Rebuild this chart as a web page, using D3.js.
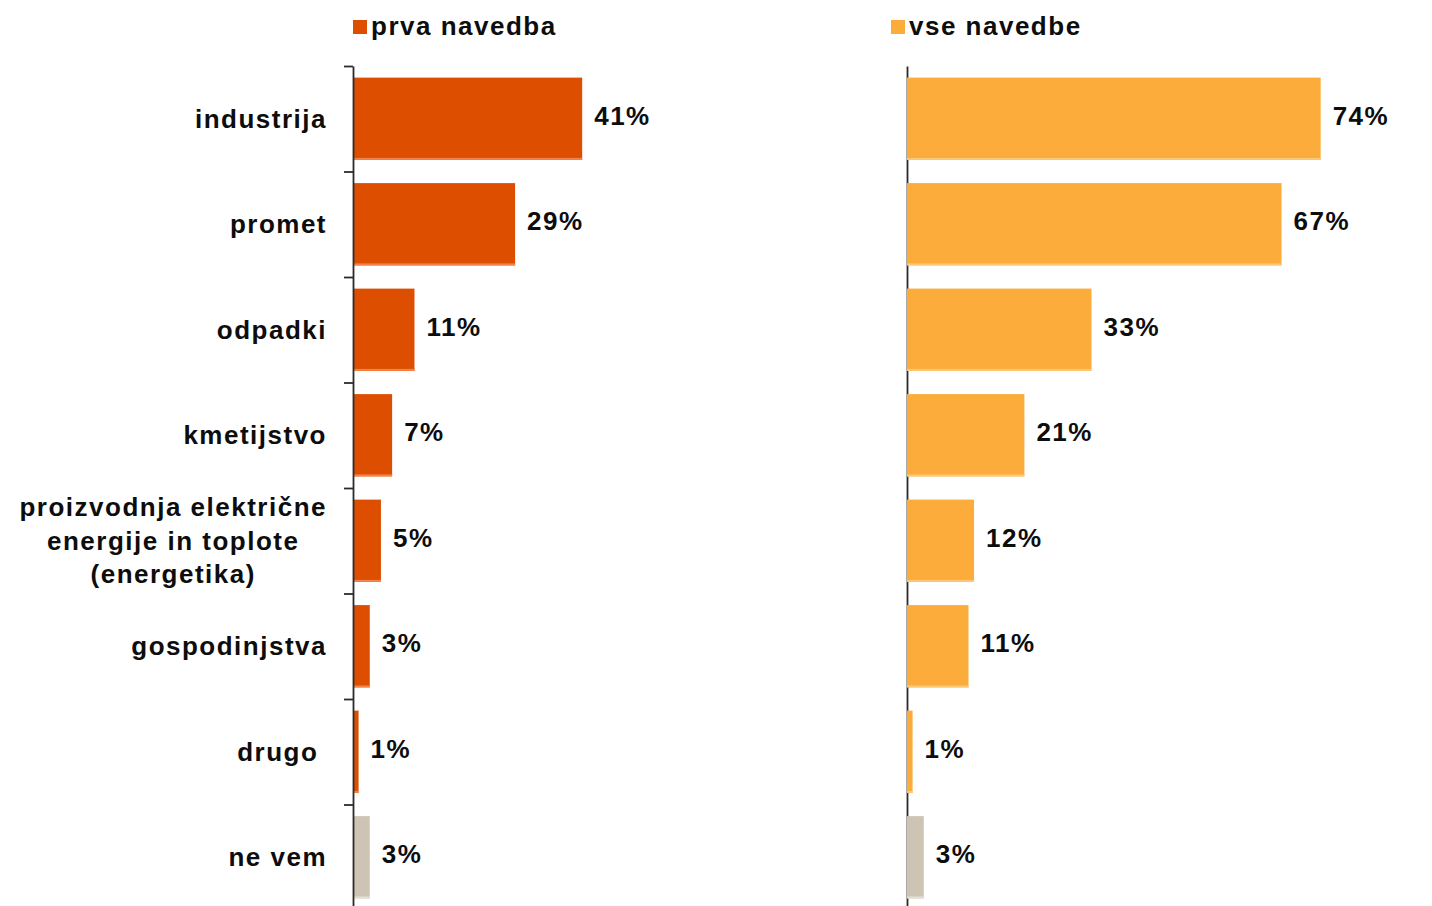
<!DOCTYPE html>
<html>
<head>
<meta charset="utf-8">
<script src="https://cdn.jsdelivr.net/npm/d3@7"></script>
<style>
  body { margin: 0; background: #fff; }
  text { font-family: "Liberation Sans", Arial, sans-serif; font-weight: bold; fill: #0d0d0d; }
</style>
</head>
<body>
<div id="chart"></div>
<script>
// Category labels (line breaks kept as separate lines)
const categories = ["industrija", "promet", "odpadki", "kmetijstvo",
  "proizvodnja električne energije in toplote (energetika)", "gospodinjstva", "drugo", "ne vem"];
const categoryLines = [["industrija"], ["promet"], ["odpadki"], ["kmetijstvo"],
  ["proizvodnja električne", "energije in toplote", "(energetika)"], ["gospodinjstva"], ["drugo\u00a0"], ["ne vem"]];

// Series values (%)
const firstMention = [41, 29, 11, 7, 5, 3, 1, 3];
const allMentions = [74, 67, 33, 21, 12, 11, 1, 3];

const seriesNames = ["prva navedba", "vse navedbe"];
const seriesColors = ["#dd4e00", "#fbac3a"];
const seriesEdge = ["#f2834a", "#fdc878"];
const dontKnowColor = "#cdc4b4";
const dontKnowEdge = "#e4ddd1";

const W = 1432, H = 906;
const FONT = "26px", SPACING = "1.5px";

const svg = d3.select("#chart").append("svg")
    .attr("width", W)
    .attr("height", H);

// Shared vertical band scale
const y = d3.scaleBand()
    .domain(categories)
    .range([66, 910])
    .paddingInner(0.22)
    .paddingOuter(0.11);

// Scale used just to place the tick marks at band borders
const tickScale = d3.scaleLinear()
    .domain([0, categories.length])
    .range([66, 910]);

const panels = [
  { x0: 353, values: firstMention, ticks: 9, series: 0, axisOnTop: true, legendX: 353 },
  { x0: 907, values: allMentions, ticks: 0, series: 1, axisOnTop: false, legendX: 891 }
];

panels.forEach(p => {
    const x = d3.scaleLinear().domain([0, 100]).range([p.x0, p.x0 + 559]);
    const g = svg.append("g");
    const axisG = g.append("g");
    const barG = g.append("g");
    if (p.axisOnTop) axisG.raise();

    // Bars
    const bars = barG.selectAll(".bar")
        .data(p.values)
        .enter()
        .append("g")
        .attr("class", "bar");

    bars.append("rect")
        .attr("x", x(0))
        .attr("y", (d, i) => y(categories[i]))
        .attr("width", d => x(d) - x(0))
        .attr("height", y.bandwidth())
        .attr("fill", (d, i) => i === categories.length - 1 ? dontKnowColor : seriesColors[p.series]);

    // lighter bottom edge like the original
    bars.append("rect")
        .attr("x", x(0))
        .attr("y", (d, i) => y(categories[i]) + y.bandwidth() - 2)
        .attr("width", d => x(d) - x(0))
        .attr("height", 2)
        .attr("fill", (d, i) => i === categories.length - 1 ? dontKnowEdge : seriesEdge[p.series]);

    // Value labels
    bars.append("text")
        .attr("x", d => x(d) + 12)
        .attr("y", (d, i) => y(categories[i]) + y.bandwidth() / 2 - 3)
        .attr("dy", "0.35em")
        .style("font-size", FONT)
        .style("letter-spacing", SPACING)
        .text(d => d + "%");

    // Axis
    axisG.attr("transform", `translate(${p.x0},0)`)
        .call(d3.axisLeft(tickScale)
            .tickValues(d3.range(categories.length + 1))
            .tickSize(p.ticks)
            .tickSizeOuter(0)
            .tickFormat(""));
    axisG.select(".domain").attr("stroke", "#2b2b2b").attr("stroke-width", 1.8);
    axisG.selectAll(".tick line").attr("stroke", "#2b2b2b").attr("stroke-width", 1.8);

    // Legend
    const lg = svg.append("g")
        .attr("transform", `translate(${p.legendX},20)`);
    lg.append("rect")
        .attr("width", 14)
        .attr("height", 14)
        .attr("fill", seriesColors[p.series]);
    lg.append("text")
        .attr("x", 18)
        .attr("y", 15)
        .style("font-size", FONT)
        .style("letter-spacing", SPACING)
        .text(seriesNames[p.series]);
});

// Category labels
const labelRight = 327;
categoryLines.forEach((lines, i) => {
    const cy = y(categories[i]) + y.bandwidth() / 2;
    const lineH = 33.5;
    const t = svg.append("text")
        .style("font-size", FONT)
        .style("letter-spacing", SPACING);
    lines.forEach((ln, j) => {
        t.append("tspan")
            .attr("y", cy + (j - (lines.length - 1) / 2) * lineH)
            .attr("dy", "0.35em")
            .text(ln);
    });
    if (lines.length === 1) {
        t.attr("text-anchor", "end").selectAll("tspan").attr("x", labelRight);
    } else {
        // multi-line label: centred lines, block aligned to the right edge
        let maxW = 0;
        t.selectAll("tspan").each(function() {
            maxW = Math.max(maxW, this.getComputedTextLength());
        });
        t.attr("text-anchor", "middle").selectAll("tspan").attr("x", labelRight - maxW / 2);
    }
});
</script>
</body>
</html>
